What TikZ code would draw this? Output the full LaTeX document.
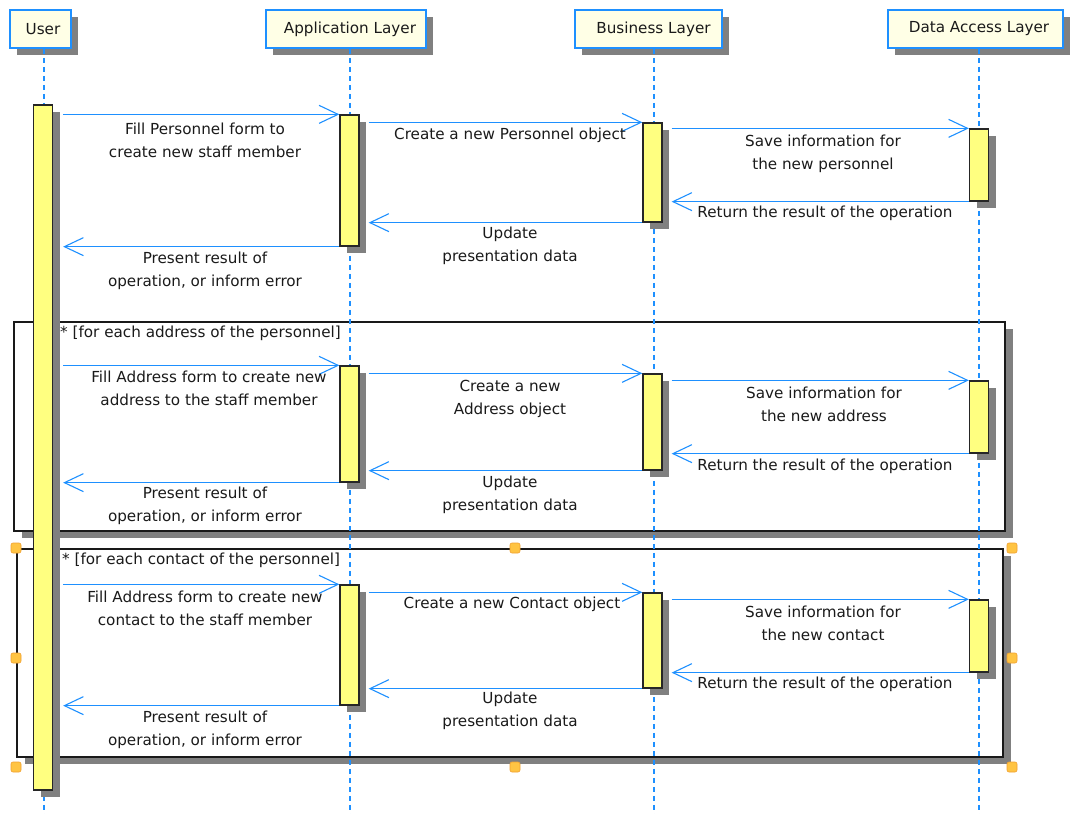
\documentclass[tikz,border=0pt]{standalone}
\usepackage{fontspec}
\setmainfont{DejaVu Sans}
\usetikzlibrary{arrows.meta,shadows}
\definecolor{lineblue}{HTML}{1E90FF}
\definecolor{headfill}{HTML}{FFFFE6}
\definecolor{barfill}{HTML}{FFFF80}
\definecolor{shade}{HTML}{808080}
\definecolor{handlefill}{HTML}{FFC443}
\definecolor{handleedge}{HTML}{F0A030}
\definecolor{inktext}{HTML}{1A1A1A}
\begin{document}
\begin{tikzpicture}[x=1pt,y=-1pt,
  every node/.style={font=\fontsize{15.2}{23}\selectfont, text=inktext},
  boxshadow/.style={drop shadow={shadow xshift=7pt, shadow yshift=-7pt, fill=shade, opacity=1}},
  head/.style={draw=lineblue, line width=1.5pt, fill=headfill, minimum height=38pt, inner sep=0pt, boxshadow},
  actbar/.style={draw=black!85, line width=1.3pt, fill=barfill, minimum width=19pt, inner sep=0pt, boxshadow},
  lifeline/.style={draw=lineblue, line width=1.3pt, dash pattern=on 5pt off 4pt},
  msg/.style={draw=lineblue, line width=1.6pt, -{Straight Barb[length=19pt,width=18pt,line width=1.1pt]}},
  lbl/.style={align=center, inner sep=0pt},
  frag/.style={draw=black!90, line width=1.6pt, fill=white, inner sep=0pt,
    drop shadow={shadow xshift=8pt, shadow yshift=-7pt, fill=shade, opacity=1}},
  hnd/.style={fill=handlefill, draw=handleedge, line width=0.6pt, rounded corners=2pt, minimum size=10pt, inner sep=0pt}]
\useasboundingbox (0,0) rectangle (1072,814);

% combined fragments (loops)
\node[frag, minimum width=991pt, minimum height=209pt] (loopA) at (509.5,426.5) {};
\node[frag, minimum width=986pt, minimum height=208pt] (loopB) at (510,653) {};

% participant heads (labels sit a little right of the box centre)
\node[head, minimum width=61pt]  (user) at (40.5,29)  {\hspace*{5pt}User};
\node[head, minimum width=160pt] (app)  at (346,29)   {\hspace*{8pt}Application Layer};
\node[head, minimum width=147pt] (biz)  at (648.5,29) {\hspace*{10pt}Business Layer};
\node[head, minimum width=175pt] (dal)  at (975.5,29) {\hspace*{7pt}Data Access Layer};

% lifelines
\coordinate (userend) at (44,814);
\coordinate (append)  at (350,814);
\coordinate (bizend)  at (654,814);
\coordinate (dalend)  at (979,814);
\draw[lifeline] (user.south -| userend) -- (userend);
\draw[lifeline] (app.south -| append) -- (append);
\draw[lifeline] (biz.south -| bizend) -- (bizend);
\draw[lifeline] (dal.south -| dalend) -- (dalend);

% activation bars
\node[actbar, minimum height=685pt] (u)  at (43,447.5) {};
\node[actbar, minimum height=131pt] (a1) at (349.5,180.5) {};
\node[actbar, minimum height=99pt]  (b1) at (652.5,172.5) {};
\node[actbar, minimum height=72pt]  (d1) at (979,165) {};
\node[actbar, minimum height=116pt] (a2) at (349.5,424) {};
\node[actbar, minimum height=96pt]  (b2) at (652.5,422) {};
\node[actbar, minimum height=72pt]  (d2) at (979,417) {};
\node[actbar, minimum height=120pt] (a3) at (349.5,645) {};
\node[actbar, minimum height=95pt]  (b3) at (652.5,640.5) {};
\node[actbar, minimum height=72pt]  (d3) at (979,636) {};

% messages: creating a personnel
\draw[msg] ([xshift=10pt]u.east |- a1.north west) -- (a1.north west);
\draw[msg] ([xshift=9pt]a1.east |- b1.north west) -- (b1.north west);
\draw[msg] ([xshift=9pt]b1.east |- d1.north west) -- (d1.north west);
\draw[msg] (d1.south west) -- ([xshift=9pt]b1.east |- d1.south west);
\draw[msg] (b1.south west) -- ([xshift=9pt]a1.east |- b1.south west);
\draw[msg] (a1.south west) -- ([xshift=10pt]u.east |- a1.south west);

% messages: addresses
\draw[msg] ([xshift=10pt]u.east |- a2.north west) -- (a2.north west);
\draw[msg] ([xshift=9pt]a2.east |- b2.north west) -- (b2.north west);
\draw[msg] ([xshift=9pt]b2.east |- d2.north west) -- (d2.north west);
\draw[msg] (d2.south west) -- ([xshift=9pt]b2.east |- d2.south west);
\draw[msg] (b2.south west) -- ([xshift=9pt]a2.east |- b2.south west);
\draw[msg] (a2.south west) -- ([xshift=10pt]u.east |- a2.south west);

% messages: contacts
\draw[msg] ([xshift=10pt]u.east |- a3.north west) -- (a3.north west);
\draw[msg] ([xshift=9pt]a3.east |- b3.north west) -- (b3.north west);
\draw[msg] ([xshift=9pt]b3.east |- d3.north west) -- (d3.north west);
\draw[msg] (d3.south west) -- ([xshift=9pt]b3.east |- d3.south west);
\draw[msg] (b3.south west) -- ([xshift=9pt]a3.east |- b3.south west);
\draw[msg] (a3.south west) -- ([xshift=10pt]u.east |- a3.south west);

% message labels
\node[lbl] (t1) at (205,140.5) {Fill Personnel form to\\create new staff member};
\node[lbl] (t2) at (510,135) {Create a new Personnel object};
\node[lbl] (t3) at (823,154) {Save information for\\the new personnel};
\node[lbl] (t4) at (825,213) {Return the result of the operation};
\node[lbl] (t5) at (510,245.5) {Update\\presentation data};
\node[lbl] (t6) at (205,271) {Present result of\\operation, or inform error};

\node[lbl, anchor=west] (gA) at (60,333) {* [for each address of the personnel]};
\node[lbl] (t7)  at (209,388.5) {Fill Address form to create new\\address to the staff member};
\node[lbl] (t8)  at (510,398.5) {Create a new\\Address object};
\node[lbl] (t9)  at (824,404.5) {Save information for\\the new address};
\node[lbl] (t10) at (825,466) {Return the result of the operation};
\node[lbl] (t11) at (510,494.5) {Update\\presentation data};
\node[lbl] (t12) at (205,505.5) {Present result of\\operation, or inform error};

\node[lbl, anchor=west] (gB) at (62,560) {* [for each contact of the personnel]};
\node[lbl] (t13) at (205,608.5) {Fill Address form to create new\\contact to the staff member};
\node[lbl] (t14) at (512,604) {Create a new Contact object};
\node[lbl] (t15) at (823,623) {Save information for\\the new contact};
\node[lbl] (t16) at (825,684) {Return the result of the operation};
\node[lbl] (t17) at (510,710.5) {Update\\presentation data};
\node[lbl] (t18) at (205,729.5) {Present result of\\operation, or inform error};

% selection handles around the second loop
\node[hnd] (h1) at (16,548) {};
\node[hnd] (h2) at (515,548) {};
\node[hnd] (h3) at (1012,548) {};
\node[hnd] (h4) at (16,658) {};
\node[hnd] (h5) at (1012,658) {};
\node[hnd] (h6) at (16,767) {};
\node[hnd] (h7) at (515,767) {};
\node[hnd] (h8) at (1012,767) {};
\end{tikzpicture}
\end{document}
